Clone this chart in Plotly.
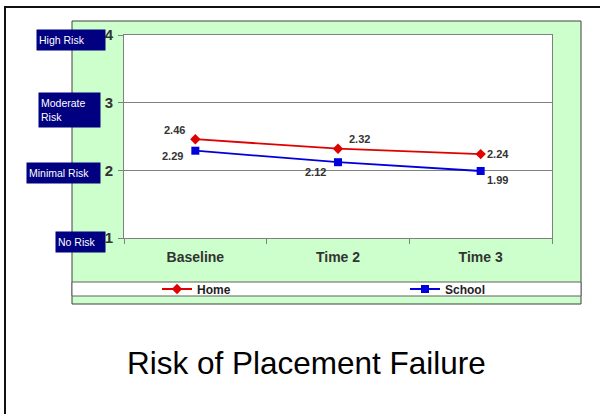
import plotly.graph_objects as go

W, H = 600, 414

categories = ["Baseline", "Time 2", "Time 3"]
home = [2.46, 2.32, 2.24]
school = [2.29, 2.12, 1.99]
y_ticks = [1, 2, 3, 4]
risk_labels = ["No Risk", "Minimal Risk", "Moderate<br>Risk", "High Risk"]
title_text = "Risk of Placement Failure"

def px(x):
    return x / W

def py(y):
    return 1 - y / H

home_off = [(-21, 9), (21, 10), (17, 0)]
school_off = [(-23, -5), (-23, -10), (17, -9)]

fig = go.Figure()
fig.add_trace(go.Scatter(
    x=categories, y=home, name="Home", mode="lines+markers",
    line=dict(color="#e00000", width=1.8),
    marker=dict(symbol="diamond", size=8, color="#e00000"),
    legend="legend",
))
fig.add_trace(go.Scatter(
    x=categories, y=school, name="School", mode="lines+markers",
    line=dict(color="#0000dd", width=1.8),
    marker=dict(symbol="square", size=8, color="#0000dd"),
    legend="legend2",
))

lab_font = dict(family="Liberation Sans, Arial", size=11, color="#333333")
annotations = []
for vals, offs in ((home, home_off), (school, school_off)):
    for c, v, (dx, dy) in zip(categories, vals, offs):
        annotations.append(dict(
            x=c, y=v, xref="x", yref="y", text=f"<b>{v:.2f}</b>",
            showarrow=False, xshift=dx, yshift=dy, font=lab_font,
        ))

box_geo = [  # (center x, center y, width, height) pixels
    (80.5, 242, 49, 20),
    (63.5, 173, 73, 20),
    (69.5, 110, 61, 34),
    (71, 40, 68, 20),
]
for txt, (cx, cy, bw, bh) in zip(risk_labels, box_geo):
    annotations.append(dict(
        x=px(cx), y=py(cy), xref="paper", yref="paper", text=txt,
        showarrow=False, bgcolor="#000080", width=bw - 4, height=bh - 4,
        align="left", valign="middle", borderpad=2,
        font=dict(family="Liberation Sans, Arial", size=10.5, color="white"),
        xanchor="center", yanchor="middle",
    ))

annotations.append(dict(
    x=px(306), y=py(363), xref="paper", yref="paper", text=title_text,
    showarrow=False, xanchor="center", yanchor="middle",
    font=dict(family="Liberation Sans, Arial", size=31.5, color="black"),
))

shapes = [
    dict(type="rect", xref="paper", yref="paper", x0=px(72), x1=px(581),
         y0=py(304), y1=py(21), fillcolor="#ccffcc",
         line=dict(color="#404040", width=1), layer="below"),
    dict(type="rect", xref="paper", yref="paper", x0=px(124), x1=px(552),
         y0=py(238), y1=py(35), fillcolor="white",
         line=dict(width=0), layer="below"),
    dict(type="rect", xref="paper", yref="paper", x0=px(72), x1=px(581),
         y0=py(296), y1=py(282), fillcolor="white",
         line=dict(color="#606060", width=1), layer="below"),
    dict(type="rect", xref="paper", yref="paper", x0=px(5), x1=px(612),
         y0=py(425), y1=py(7), fillcolor="rgba(0,0,0,0)",
         line=dict(color="#111111", width=2), layer="above"),
]

leg_font = dict(family="Liberation Sans, Arial", size=12, color="#222222", weight="bold")

fig.update_layout(
    width=W, height=H,
    margin=dict(l=0, r=0, t=0, b=0, autoexpand=False),
    paper_bgcolor="white", plot_bgcolor="white",
    showlegend=True,
    legend=dict(
        orientation="h", x=px(157), y=py(289), xanchor="left", yanchor="middle",
        bgcolor="rgba(0,0,0,0)", font=leg_font,
    ),
    legend2=dict(
        orientation="h", x=px(405), y=py(289), xanchor="left", yanchor="middle",
        bgcolor="rgba(0,0,0,0)", font=leg_font,
    ),
    xaxis=dict(
        domain=[px(124), px(552)], range=[-0.5, 2.5], type="category",
        showgrid=False, showline=True, mirror=True, linecolor="#808080", linewidth=1,
        ticks="outside", tickson="boundaries", ticklen=5, tickcolor="#808080",
        tickfont=dict(family="Liberation Sans, Arial", size=14, color="#333333", weight="bold"),
        ticklabelstandoff=6, fixedrange=True, automargin=False,
    ),
    yaxis=dict(
        domain=[py(238), py(35)], range=[1, 4], tickvals=y_ticks,
        showgrid=True, gridcolor="#808080", gridwidth=1, zeroline=False,
        showline=True, mirror=True, linecolor="#808080", linewidth=1,
        ticks="outside", ticklen=5, tickcolor="#808080",
        tickfont=dict(family="Liberation Sans, Arial", size=15, color="#333333", weight="bold"),
        ticklabelstandoff=2, fixedrange=True, automargin=False,
    ),
    annotations=annotations,
    shapes=shapes,
)

fig.write_html(
    "out.html",
    config={"displayModeBar": False},
    post_script="document.body.style.margin='0px';document.body.style.overflow='hidden';",
)
